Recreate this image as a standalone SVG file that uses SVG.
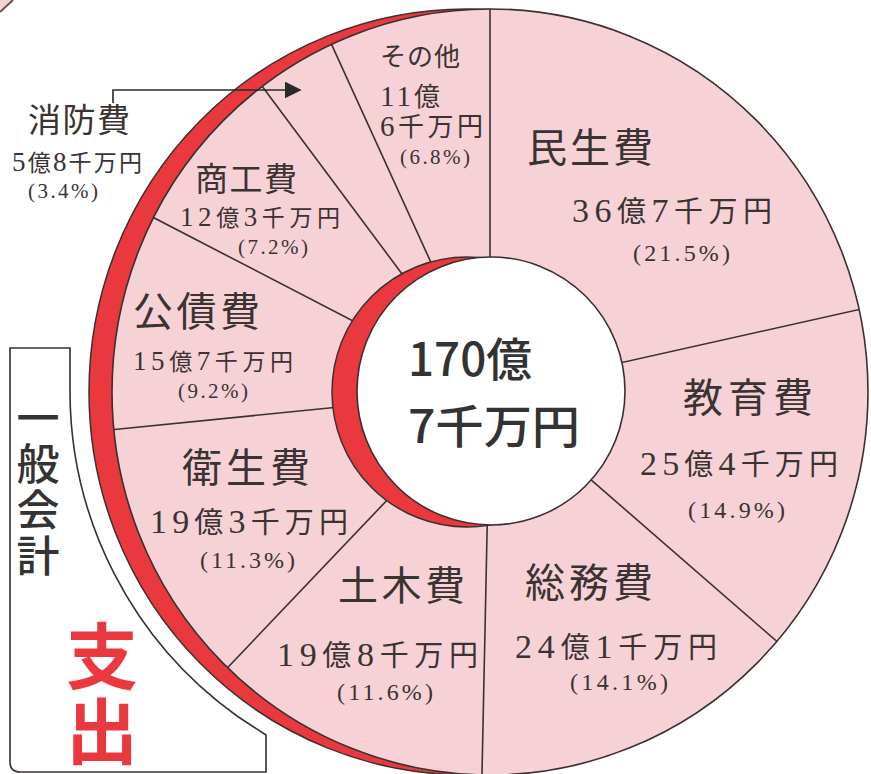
<svg xmlns="http://www.w3.org/2000/svg" width="871" height="774" viewBox="0 0 871 774">
<defs>
<style>
.lbl{font-family:"Liberation Serif","Noto Sans CJK JP",serif;fill:#3b3232;}
.ttl{font-size:40px;}
.mid{font-size:33px;}
.amt{font-size:29px;}
.amt .d{font-size:34px;}
.amts{font-size:23px;}
.amts .d{font-size:27px;}
.pct{font-size:24px;}
.pcts{font-size:21px;}
.goth{font-family:"Noto Sans CJK JP","Noto Sans",sans-serif;fill:#333;}
.vert{writing-mode:vertical-rl;text-orientation:upright;}
.ln{stroke:#3a3030;stroke-width:1.6;fill:none;}
</style>
<clipPath id="pie"><ellipse cx="490" cy="392" rx="378" ry="383"/></clipPath>
<marker id="ah" viewBox="0 0 10 10" refX="9" refY="5" markerWidth="17" markerHeight="17" markerUnits="userSpaceOnUse" orient="auto"><path d="M0,0 L10,5 L0,10 Z" fill="#2a2a2a"/></marker>
</defs>
<rect width="871" height="774" fill="#ffffff"/>
<path d="M0,0 L13,0 L0,12 Z" fill="#f5d2d6"/>
<path d="M0,12 L13,0" stroke="#6a5050" stroke-width="2"/>

<g id="frame">
<path d="M10,348 H70 V392 A400 400 0 0 0 237,716 L266,735 V772 H20 Q10,772 10,762 Z" fill="#ffffff" stroke="#3a3030" stroke-width="1.6"/>
<text class="goth vert" font-size="43" font-weight="500" x="38" y="396" letter-spacing="3">一般会計</text>
<text class="vert" font-family="'Noto Sans CJK JP','Noto Sans',sans-serif" font-size="72" font-weight="bold" fill="#e9393e" x="102" y="620" letter-spacing="3">支出</text>
</g>

<g id="pie-base">
<ellipse cx="467" cy="392" rx="378" ry="383" fill="#e9393e" stroke="#3a3030" stroke-width="1.5"/>
<ellipse cx="490" cy="392" rx="378" ry="383" fill="#f6d2d7" stroke="#3a3030" stroke-width="1.6"/>
</g>

<g id="connectors" clip-path="url(#pie)">
<line class="ln" x1="490" y1="392" x2="490" y2="-28"/>
<line class="ln" x1="490" y1="392" x2="899.9" y2="300.4"/>
<line class="ln" x1="490" y1="392" x2="807.0" y2="667.6"/>
<line class="ln" x1="490" y1="392" x2="481.2" y2="811.9"/>
<line class="ln" x1="490" y1="392" x2="200.4" y2="696.2"/>
<line class="ln" x1="490" y1="392" x2="72.1" y2="433.7"/>
<line class="ln" x1="490" y1="392" x2="117.1" y2="198.7"/>
<line class="ln" x1="490" y1="392" x2="239.0" y2="55.2"/>
<line class="ln" x1="490" y1="392" x2="315.8" y2="9.8"/>
</g>
<g id="arrow">
<path d="M113,103 V90 H300" fill="none" stroke="#2a2a2a" stroke-width="1.6" marker-end="url(#ah)"/>
</g>

<g id="center">
<circle cx="467" cy="392" r="135" fill="#e9393e" stroke="#3a3030" stroke-width="1.5"/>
<circle cx="491" cy="391" r="134" fill="#ffffff" stroke="#3a3030" stroke-width="1.6"/>
<text class="goth" font-size="46" font-weight="500" x="408" y="376" textLength="124" lengthAdjust="spacingAndGlyphs">170億</text>
<text class="goth" font-size="46" font-weight="500" x="408" y="443" textLength="172" lengthAdjust="spacingAndGlyphs">7千万円</text>
</g>

<g id="sonota" class="lbl">
<text x="380" y="66" font-size="26" textLength="80" lengthAdjust="spacing">その他</text>
<text x="380" y="106" font-size="26" textLength="60" lengthAdjust="spacing"><tspan font-size="29">11</tspan>億</text>
<text x="380" y="136" font-size="26" textLength="103" lengthAdjust="spacing"><tspan font-size="29">6</tspan>千万円</text>
<text class="pcts" x="400" y="164" textLength="70" lengthAdjust="spacing">(6.8%)</text>
</g>
<g id="minsei" class="lbl">
<text class="ttl" x="527" y="162" textLength="126" lengthAdjust="spacing">民生費</text>
<text class="amt" x="572" y="222" textLength="200" lengthAdjust="spacing"><tspan class="d">36</tspan>億<tspan class="d">7</tspan>千万円</text>
<text class="pct" x="633" y="261" textLength="97" lengthAdjust="spacing">(21.5%)</text>
</g>
<g id="kyouiku" class="lbl">
<text class="ttl" x="683" y="412" textLength="130" lengthAdjust="spacing">教育費</text>
<text class="amt" x="640" y="475" textLength="198" lengthAdjust="spacing"><tspan class="d">25</tspan>億<tspan class="d">4</tspan>千万円</text>
<text class="pct" x="688" y="518" textLength="97" lengthAdjust="spacing">(14.9%)</text>
</g>
<g id="soumu" class="lbl">
<text class="ttl" x="525" y="597" textLength="128" lengthAdjust="spacing">総務費</text>
<text class="amt" x="515" y="658" textLength="202" lengthAdjust="spacing"><tspan class="d">24</tspan>億<tspan class="d">1</tspan>千万円</text>
<text class="pct" x="570" y="690" textLength="98" lengthAdjust="spacing">(14.1%)</text>
</g>
<g id="doboku" class="lbl">
<text class="ttl" x="338" y="600" textLength="127" lengthAdjust="spacing">土木費</text>
<text class="amt" x="277" y="666" textLength="201" lengthAdjust="spacing"><tspan class="d">19</tspan>億<tspan class="d">8</tspan>千万円</text>
<text class="pct" x="337" y="700" textLength="96" lengthAdjust="spacing">(11.6%)</text>
</g>
<g id="eisei" class="lbl">
<text class="ttl" x="182" y="482" textLength="128" lengthAdjust="spacing">衛生費</text>
<text class="amt" x="150" y="533" textLength="198" lengthAdjust="spacing"><tspan class="d">19</tspan>億<tspan class="d">3</tspan>千万円</text>
<text class="pct" x="200" y="568" textLength="95" lengthAdjust="spacing">(11.3%)</text>
</g>
<g id="kousai" class="lbl">
<text class="ttl" x="133" y="326" textLength="127" lengthAdjust="spacing">公債費</text>
<text class="amts" x="133" y="370" textLength="160" lengthAdjust="spacing"><tspan class="d">15</tspan>億<tspan class="d">7</tspan>千万円</text>
<text class="pcts" x="178" y="398" textLength="70" lengthAdjust="spacing">(9.2%)</text>
</g>
<g id="shoukou" class="lbl">
<text class="mid" x="195" y="191" textLength="102" lengthAdjust="spacing">商工費</text>
<text class="amts" x="180" y="226" textLength="160" lengthAdjust="spacing"><tspan class="d">12</tspan>億<tspan class="d">3</tspan>千万円</text>
<text class="pcts" x="238" y="254" textLength="70" lengthAdjust="spacing">(7.2%)</text>
</g>
<g id="shoubou" class="lbl">
<text class="mid" x="28" y="132" textLength="102" lengthAdjust="spacing">消防費</text>
<text class="amts" x="12" y="171" textLength="130" lengthAdjust="spacing"><tspan class="d">5</tspan>億<tspan class="d">8</tspan>千万円</text>
<text class="pcts" x="28" y="198" textLength="70" lengthAdjust="spacing">(3.4%)</text>
</g>
</svg>
